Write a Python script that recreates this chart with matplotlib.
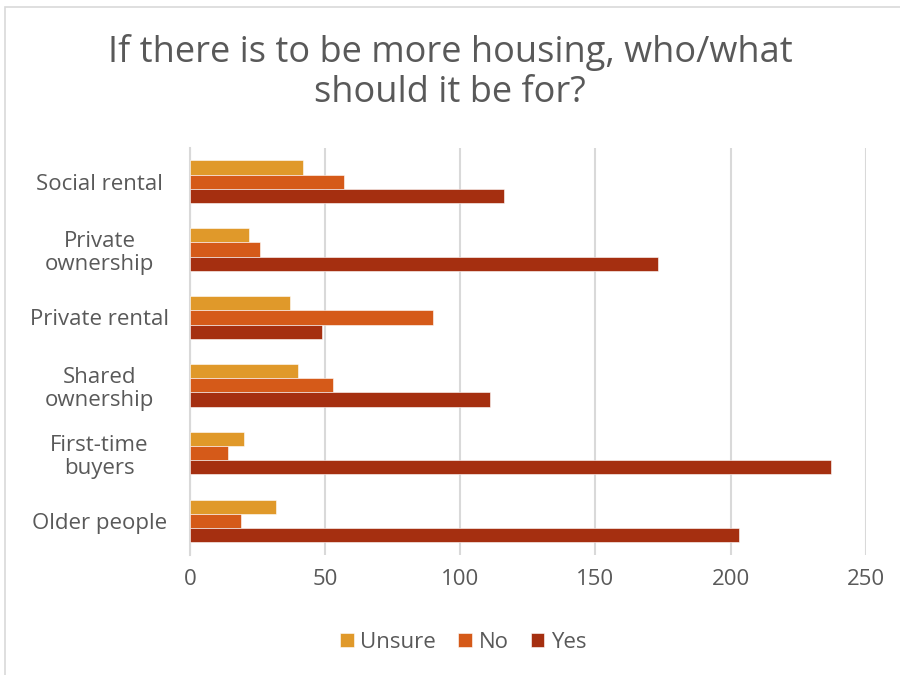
import numpy as np
import matplotlib.pyplot as plt
from matplotlib.patches import Rectangle

# Data
categories = ["Social rental", "Private\nownership", "Private rental",
              "Shared\nownership", "First-time\nbuyers", "Older people"]
unsure = [42, 22, 37, 40, 20, 32]
no = [57, 26, 90, 53, 14, 19]
yes = [116, 173, 49, 111, 237, 203]

series = [("Unsure", unsure, "#E0992A"),
          ("No", no, "#D55A19"),
          ("Yes", yes, "#A52F10")]

plt.rcParams["font.family"] = ["Open Sans", "DejaVu Sans"]
text_color = "#595959"

fig = plt.figure(figsize=(9, 6.75), dpi=100)
ax = fig.add_axes([0.211, 0.178, 0.751, 0.603])

# light chart frame
fig.patches.append(Rectangle((0.006, -0.01), 1.1, 1.0, transform=fig.transFigure,
                             fill=False, edgecolor="#d9d9d9", linewidth=1.2))

y = np.arange(len(categories))
h = 0.21
for k, (name, vals, color) in enumerate(series):
    ax.barh(y + (k - 1) * h, vals, height=h, color=color, label=name,
            edgecolor="white", linewidth=0.4, zorder=3)

ax.set_ylim(len(categories) - 0.5, -0.5)
ax.set_xlim(0, 250)
ax.set_xticks(range(0, 251, 50))
ax.set_yticks(y)
ax.set_yticklabels(categories, ha="center", linespacing=1.15)
ax.tick_params(axis="y", pad=65, length=0, labelsize=16, labelcolor=text_color)
ax.tick_params(axis="x", length=0, labelsize=16, labelcolor=text_color, pad=10)

ax.grid(axis="x", color="#d9d9d9", linewidth=1.5, zorder=0)
for s in ["top", "right", "bottom"]:
    ax.spines[s].set_visible(False)
ax.spines["left"].set_color("#d9d9d9")
ax.spines["left"].set_linewidth(1.5)

fig.text(0.5, 0.893, "If there is to be more housing, who/what\nshould it be for?",
         ha="center", va="center", fontsize=26, color=text_color, linespacing=1.15)

ax.legend(loc="center", bbox_to_anchor=(0.5 - 0.211 / 2 + 0.01, -0.215), ncol=3,
          frameon=False, fontsize=16, labelcolor=text_color,
          handlelength=0.6, handleheight=0.6, handletextpad=0.3, columnspacing=1.0)

fig.savefig("out.png", dpi=100)
